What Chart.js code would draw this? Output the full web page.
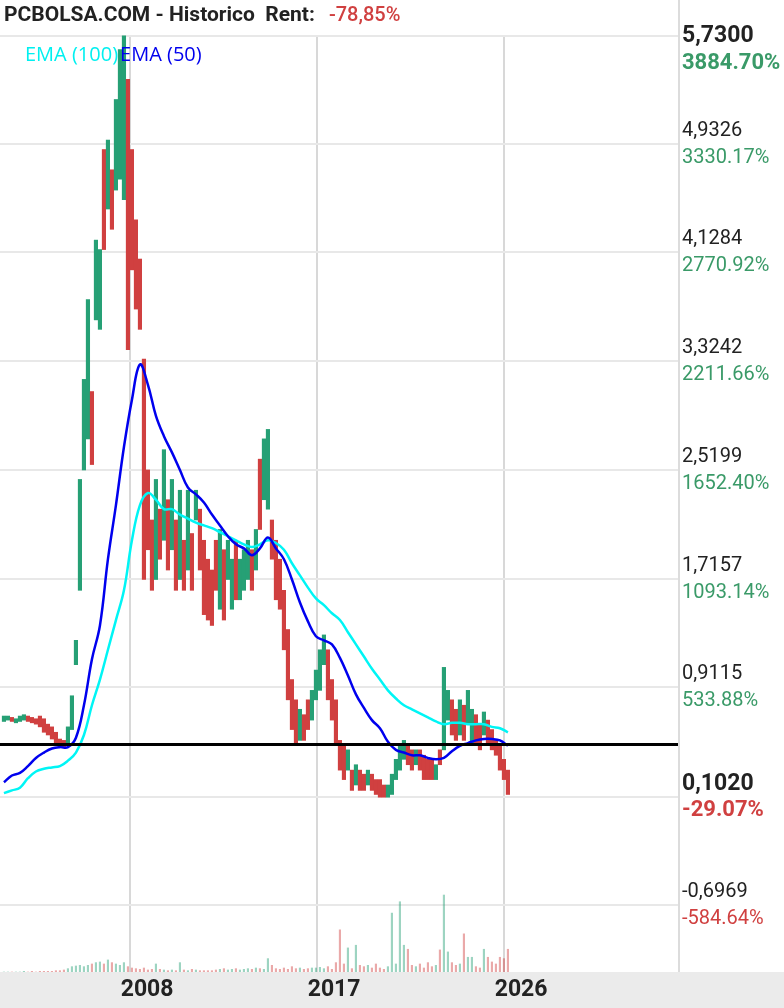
<!DOCTYPE html>
<html>
<head>
<meta charset="utf-8">
<script src="https://cdn.jsdelivr.net/npm/chart.js@4.4.1/dist/chart.umd.min.js"></script>
<style>
  html, body { margin: 0; padding: 0; background: #fff; }
  #wrap { width: 784px; height: 1008px; position: relative; }
</style>
</head>
<body>
<div id="wrap"><canvas id="chart"></canvas></div>
<script>
const START_YEAR = 2001.93;   // first bar
const BAR_STEP   = 0.1925;    // years between bars

const LOWS = [
  .66,.67,.66,.65,.66,.67,.66,.65,.64,.62, .58,.56,.53,.49,.47,.47,.49,.60,1.08,1.63,
  2.52,2.75,2.56,3.63,3.56,4.15,4.45,4.30,4.59,4.67, 4.52,3.41,4.00,3.71,3.56,1.71,1.93,1.63,1.71,1.86,
  2.00,1.78,1.93,1.63,1.71,1.63,1.78,1.63,2.15,1.78, 1.45,1.41,1.37,1.63,1.49,1.41,1.71,1.49,1.56,1.56,
  1.63,1.71,1.63,1.78,2.08,2.30,2.23,1.86,1.56,1.49, 1.19,.82,.60,.49,.52,.52,.60,.67,.82,.89,
  1.08,.82,.67,.49,.30,.23,.30,.15,.19,.15, .15,.19,.15,.12,.10,.10,.10,.12,.23,.30,
  .38,.34,.30,.34,.30,.23,.23,.23,.23,.34, .45,.67,.56,.52,.56,.52,.64,.49,.49,.45,
  .56,.49,.45,.41,.30,.23,.12
];
const HIGHS = [
  .70,.70,.69,.68,.70,.71,.70,.69,.68,.70, .68,.64,.62,.58,.53,.52,.62,.85,1.26,2.45,
  3.19,3.78,3.10,4.22,4.15,4.89,4.96,4.74,5.26,5.63, 5.73,5.41,4.89,4.37,4.08,3.34,2.52,2.15,2.45,2.23,
  2.67,2.30,2.45,2.15,2.37,2.00,2.37,2.05,2.37,2.23, 2.00,1.86,1.78,2.00,2.08,1.93,2.00,1.86,2.00,1.86,
  1.93,2.00,1.93,2.08,2.60,2.75,2.82,2.15,2.00,1.86, 1.63,1.34,.97,.82,.75,.71,.82,.89,1.04,1.19,
  1.30,1.19,.97,.82,.52,.49,.45,.30,.34,.30, .27,.30,.27,.23,.23,.19,.19,.27,.38,.49,
  .52,.49,.45,.45,.45,.41,.38,.38,.34,.45, 1.06,.89,.82,.75,.82,.78,.89,.75,.71,.64,
  .73,.67,.60,.52,.49,.38,.30
];
const DIRS = (
  'uuduuudddd' + 'dddddduuuu' +
  'uuduududuu' + 'udddddddud' +
  'ududududud' + 'dddduduudu' +
  'uududuuddd' + 'ddddudduuu' +
  'udddddudud' + 'dudddduuuu' +
  'udduddddud' + 'uudduduudd' +
  'uddddddd'
).split('');
const VOLUMES = [
  0,0,0,0,0,1,0,1,0,1, 1,1,1,2,2,3,5,8,9,10,
  8,10,12,14,15,12,18,14,12,10, 14,8,6,5,4,6,3,4,12,4,
  3,2,3,2,14,3,2,4,3,2, 2,2,2,3,4,5,3,4,5,3,
  4,5,4,6,5,4,20,10,5,4, 6,4,8,5,6,4,5,6,6,7,
  5,8,4,14,63,12,36,5,40,10, 8,10,6,12,6,4,8,88,12,105,
  40,34,10,8,12,6,14,8,10,33, 115,30,14,10,12,57,22,22,8,6,
  34,22,15,12,22,20,34
];

const EMA_STEP = 2 * BAR_STEP; // EMAs read every other bar
const EMA50 = [
  .21,.26,.28,.33,.39,.43,.46,.47,.47,.54, .78,1.12,1.37,1.86,2.26,2.69,3.04,3.30,3.15,2.92,
  2.77,2.65,2.52,2.39,2.34,2.28,2.19,2.11,2.03,1.97, 1.94,1.89,1.94,2.02,1.94,1.86,1.71,1.54,1.40,1.29,
  1.26,1.23,1.13,1.00,.86,.76,.67,.61,.51,.45, .43,.41,.41,.39,.38,.39,.44,.48,.50,.52,
  .53,.53,.52,.48
];
const EMA100 = [
  .13,.15,.17,.24,.29,.31,.32,.33,.37,.43, .56,.78,.97,1.19,1.41,1.63,2.00,2.26,2.35,2.30,
  2.23,2.23,2.19,2.16,2.13,2.11,2.09,2.06,2.03,2.00, 1.97,1.95,1.97,2.00,1.98,1.93,1.83,1.74,1.65,1.57,
  1.52,1.46,1.41,1.32,1.23,1.14,1.05,.97,.89,.83, .78,.75,.72,.69,.66,.64,.65,.65,.64,.64,
  .64,.62,.61,.58
];

const Y_TICKS   = [5.7300, 4.9326, 4.1284, 3.3242, 2.5199, 1.7157, 0.9115, 0.1020, -0.6969];
const Y_LABELS  = ['5,7300', '4,9326', '4,1284', '3,3242', '2,5199', '1,7157', '0,9115', '0,1020', '-0,6969'];
const PCT_LABELS = ['3884.70%', '3330.17%', '2770.92%', '2211.66%', '1652.40%', '1093.14%', '533.88%', '-29.07%', '-584.64%'];
const BOLD_ROWS = [0, 7];
const X_TICKS = [2008, 2017, 2026];
const REF_LEVEL = 0.49;

const GREEN = '#26a075';
const RED   = '#d04040';

const barTime = i => START_YEAR + i * BAR_STEP;
const candles = LOWS.map((lo, i) => ({ x: barTime(i), y: [lo, HIGHS[i]] }));
const volumes = VOLUMES.map((v, i) => ({ x: barTime(i), y: v }));
const dirColor = (alpha) => DIRS.map(d => d === 'u'
  ? (alpha ? 'rgba(38,160,117,0.45)' : GREEN)
  : (alpha ? 'rgba(208,64,64,0.45)' : RED));

const decor = {
  id: 'decor',
  beforeDraw(chart) {
    const { ctx, chartArea: a } = chart;
    ctx.save();
    ctx.fillStyle = '#ebebeb';
    ctx.fillRect(0, a.bottom, chart.width, chart.height - a.bottom);
    ctx.restore();
  },
  afterDatasetsDraw(chart) {
    const { ctx, chartArea: a, scales } = chart;
    const y = scales.y;
    ctx.save();
    // reference line
    ctx.strokeStyle = '#000';
    ctx.lineWidth = 3;
    const ry = y.getPixelForValue(REF_LEVEL);
    ctx.beginPath(); ctx.moveTo(a.left, ry); ctx.lineTo(a.right, ry); ctx.stroke();
    // right panel divider
    ctx.strokeStyle = '#dcdcdc';
    ctx.lineWidth = 2;
    ctx.beginPath(); ctx.moveTo(a.right + 1, 0); ctx.lineTo(a.right + 1, a.bottom); ctx.stroke();

    // right labels
    ctx.textBaseline = 'middle';
    ctx.textAlign = 'left';
    Y_TICKS.forEach((v, i) => {
      const py = y.getPixelForValue(v);
      const bold = BOLD_ROWS.includes(i);
      const vy = Math.max(py - 13, 36);
      const pcy = i === 0 ? 63 : py + 14;
      ctx.fillStyle = '#222';
      ctx.font = (bold ? 'bold 23px' : '20px') + ' Roboto';
      ctx.fillText(Y_LABELS[i], a.right + 4, vy);
      ctx.fillStyle = PCT_LABELS[i].startsWith('-') ? RED : '#3a9a68';
      ctx.font = (bold ? 'bold 22px' : '20px') + ' Roboto';
      ctx.fillText(PCT_LABELS[i], a.right + 4, pcy);
    });

    // title
    ctx.fillStyle = '#222';
    ctx.font = 'bold 21px Roboto';
    const title = 'PCBOLSA.COM - Historico  Rent:';
    ctx.fillText(title, 4, 16);
    const tw = ctx.measureText(title).width;
    ctx.fillStyle = RED;
    ctx.font = '500 20px Roboto';
    ctx.fillText('-78,85%', tw + 18, 16);

    // legend
    ctx.font = '20px "Open Sans"';
    ctx.fillStyle = '#00f0f0';
    ctx.fillText('EMA (100)', 25, 55);
    const lw = ctx.measureText('EMA (100)').width;
    ctx.fillStyle = '#0000ee';
    ctx.fillText('EMA (50)', 25 + lw + 2, 55);
    ctx.restore();
  }
};

new Chart(document.getElementById('chart'), {
  data: {
    datasets: [
      {
        type: 'bar', data: volumes, yAxisID: 'vol',
        backgroundColor: dirColor(true), barThickness: 1.5, grouped: false, order: 3,
      },
      {
        type: 'bar', data: candles, yAxisID: 'y',
        backgroundColor: dirColor(false), barThickness: 3.5, grouped: false, order: 2,
      },
      {
        type: 'line', label: 'EMA (100)', yAxisID: 'y', order: 1,
        data: EMA100.map((v, i) => ({ x: START_YEAR + i * EMA_STEP, y: v })),
        borderColor: '#00f5f5', borderWidth: 2.5, pointRadius: 0, tension: 0.4,
      },
      {
        type: 'line', label: 'EMA (50)', yAxisID: 'y', order: 0,
        data: EMA50.map((v, i) => ({ x: START_YEAR + i * EMA_STEP, y: v })),
        borderColor: '#0000ee', borderWidth: 2.5, pointRadius: 0, tension: 0.4,
      },
    ]
  },
  options: {
    responsive: true,
    maintainAspectRatio: false,
    animation: false,
    layout: { padding: { top: 35, left: 0, right: 0, bottom: 0 } },
    plugins: { legend: { display: false }, tooltip: { enabled: false } },
    scales: {
      x: {
        type: 'linear', min: 2001.74, max: 2034.37, offset: false,
        afterBuildTicks: s => { s.ticks = X_TICKS.map(v => ({ value: v })); },
        afterFit: s => { s.height = 36; },
        grid: { color: '#d8d8d8', lineWidth: 2, drawTicks: false, offset: false },
        border: { display: false },
        ticks: { color: '#222', font: { family: 'Roboto', size: 23, weight: 'bold' }, padding: 4, labelOffset: 17, callback: v => String(v) },
      },
      y: {
        position: 'right', min: -1.193, max: 5.737,
        afterBuildTicks: s => { s.ticks = Y_TICKS.map(v => ({ value: v })); },
        afterFit: s => { s.width = 106; },
        grid: { color: '#e8e8e8', lineWidth: 2, drawTicks: false },
        border: { display: false },
        ticks: { display: false },
      },
      vol: { display: false, min: 0, max: 1400 },
    }
  },
  plugins: [decor]
});
</script>
</body>
</html>
